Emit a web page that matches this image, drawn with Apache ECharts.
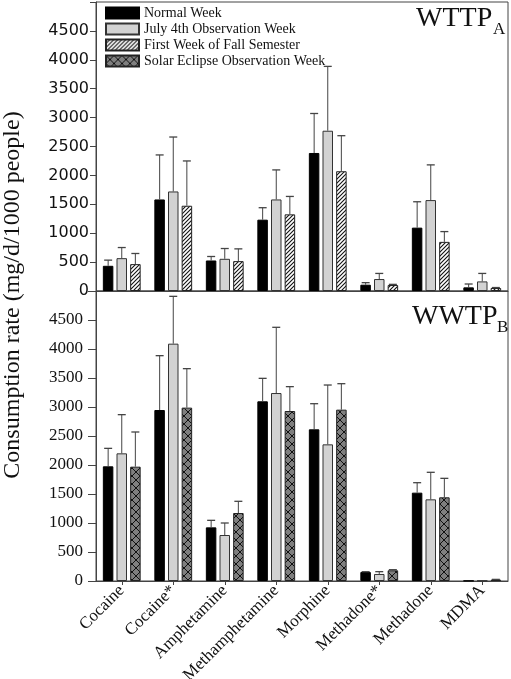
<!DOCTYPE html>
<html>
<head>
<meta charset="utf-8">
<script src="https://cdn.jsdelivr.net/npm/echarts@6/dist/echarts.min.js"></script>
<style>
html,body{margin:0;padding:0;background:#fff;}
#chart{width:511px;height:679px;}
</style>
</head>
<body>
<div id="chart"></div>
<script>
// ---- data ----
const categories = ['Cocaine','Cocaine*','Amphetamine','Methamphetamine','Morphine','Methadone*','Methadone','MDMA'];
const seriesNames = ['Normal Week','July 4th Observation Week','First Week of Fall Semester','Solar Eclipse Observation Week'];
const yTicks = [0,500,1000,1500,2000,2500,3000,3500,4000,4500];

// WTTP_A
const normalA  = [436, 1584, 528, 1234, 2388, 109, 1096, 63];
const normalAsd= [98, 770, 69, 207, 683, 35, 448, 58];
const julyA    = [568, 1722, 557, 1584, 2773, 207, 1573, 166];
const julyAsd  = [184, 942, 178, 511, 1113, 97, 609, 138];
const fallA    = [465, 1475, 517, 1326, 2072, 103, 850, 52];
const fallAsd  = [184, 775, 212, 310, 615, 12, 178, 8];

// WWTP_B
const normalB  = [1977, 2948, 925, 3098, 2615, 155, 1523, 5];
const normalBsd= [310, 937, 121, 396, 442, 5, 172, 0];
const julyB    = [2201, 4092, 793, 3241, 2356, 121, 1408, 5];
const julyBsd  = [667, 816, 207, 1133, 1023, 40, 466, 0];
const eclipseB = [1971, 2989, 1172, 2931, 2954, 184, 1443, 23];
const eclipseBsd=[598, 672, 202, 420, 448, 11, 327, 5];

// ---- patterns ----
function hatchPattern(){
  const c = document.createElement('canvas'); c.width = 4; c.height = 4;
  const g = c.getContext('2d');
  g.fillStyle = '#fff'; g.fillRect(0,0,4,4);
  g.strokeStyle = '#111'; g.lineWidth = 1.1;
  g.beginPath();
  g.moveTo(-1,5); g.lineTo(5,-1);
  g.moveTo(-1,1); g.lineTo(1,-1);
  g.moveTo(3,5); g.lineTo(5,3);
  g.stroke();
  return c;
}
function crossPattern(){
  const c = document.createElement('canvas'); c.width = 8; c.height = 8;
  const g = c.getContext('2d');
  g.fillStyle = '#7f7f7f'; g.fillRect(0,0,8,8);
  g.strokeStyle = '#111'; g.lineWidth = 1;
  g.beginPath();
  g.moveTo(0,0); g.lineTo(8,8);
  g.moveTo(8,0); g.lineTo(0,8);
  g.stroke();
  return c;
}
const hatch = {image: hatchPattern(), repeat: 'repeat'};
const cross = {image: crossPattern(), repeat: 'repeat'};

const styles = [
  {color:'#000', borderColor:'#000', borderWidth:1},
  {color:'#d2d2d2', borderColor:'#333', borderWidth:1},
  {color:hatch, borderColor:'#222', borderWidth:1},
  {color:cross, borderColor:'#222', borderWidth:1}
];

const BAR_W = 10.5;
const STEP = 13.6;

function barSeries(name, data, idx, styleIdx){
  return {
    name: name, type:'bar', xAxisIndex: idx, yAxisIndex: idx,
    data: data, barWidth: BAR_W, barGap: '30%',
    itemStyle: styles[styleIdx], emphasis:{disabled:true},
    silent: true, z: 2
  };
}
function errSeries(vals, sds, idx, pos){
  return {
    type:'custom', name:'err'+idx+'_'+pos, xAxisIndex: idx, yAxisIndex: idx,
    data: vals.map((v,i)=>[i, v, sds[i]]),
    z: 3, silent: true,
    renderItem: function(params, api){
      const v = api.value(1), e = api.value(2);
      const p0 = api.coord([api.value(0), v]);
      const p1 = api.coord([api.value(0), v + e]);
      const cx = p0[0] + pos*STEP;
      if (e <= 0) return null;
      return {type:'group', children:[
        {type:'line', shape:{x1:cx, y1:p0[1], x2:cx, y2:p1[1]}, style:{stroke:'#444', lineWidth:1}},
        {type:'line', shape:{x1:cx-4, y1:p1[1], x2:cx+4, y2:p1[1]}, style:{stroke:'#444', lineWidth:1.3}}
      ]};
    }
  };
}

function yAxis(idx, fontFamily, fontSize, tickLen, margin){
  return {
    type:'value', gridIndex: idx, min:0, max:5000, interval:500,
    axisLine:{show:true, lineStyle:{color:'#444', width:1}},
    axisTick:{show:true, length:tickLen, lineStyle:{color:'#444'}},
    splitLine:{show:false},
    axisLabel:{
      color:'#111', fontFamily: fontFamily, fontSize: fontSize, margin: margin,
      formatter: v => (yTicks.indexOf(v) >= 0 ? String(v) : '')
    }
  };
}

const chart = echarts.init(document.getElementById('chart'), null, {renderer:'canvas'});
chart.setOption({
  backgroundColor:'#fff',
  animation:false,
  grid:[
    {left:96, top:2, width:412, height:289, show:true, borderColor:'#444', borderWidth:1, backgroundColor:'transparent', containLabel:false, outerBoundsMode:'none'},
    {left:96, top:291, width:412, height:290, show:true, borderColor:'#444', borderWidth:1, backgroundColor:'transparent', containLabel:false, outerBoundsMode:'none'}
  ],
  xAxis:[
    {type:'category', gridIndex:0, data:categories,
     axisLine:{show:true, lineStyle:{color:'#444'}}, axisTick:{show:false}, axisLabel:{show:false}},
    {type:'category', gridIndex:1, data:categories,
     axisLine:{show:true, lineStyle:{color:'#444'}},
     axisTick:{show:true, alignWithLabel:true, length:4, lineStyle:{color:'#444'}},
     axisLabel:{show:true, interval:0, rotate:45, margin:7, color:'#111', fontFamily:'Liberation Serif', fontSize:17}}
  ],
  yAxis:[
    yAxis(0, 'DejaVu Sans', 16, 6, 7),
    yAxis(1, 'Liberation Serif', 17, 8, 13)
  ],
  legend:{
    data: seriesNames, orient:'vertical', left:100, top:1,
    itemWidth:33, itemHeight:11, itemGap:2, icon:'rect',
    textStyle:{fontFamily:'Liberation Serif', fontSize:14, color:'#111'},
    selectedMode:false
  },
  graphic:[
    {type:'text', left:416, top:5, style:{text:'WTTP', font:'28px "Liberation Serif"', fill:'#111'}},
    {type:'text', left:493, top:21, style:{text:'A', font:'17px "Liberation Serif"', fill:'#111'}},
    {type:'text', left:412, top:303, style:{text:'WWTP', font:'28px "Liberation Serif"', fill:'#111'}},
    {type:'text', left:497, top:319, style:{text:'B', font:'17px "Liberation Serif"', fill:'#111'}},
    {type:'text', x:13, y:295, rotation:Math.PI/2,
     style:{text:'Consumption rate (mg/d/1000 people)', font:'24px "Liberation Serif"', fill:'#111', align:'center', verticalAlign:'middle'}}
  ],
  series:[
    barSeries(seriesNames[0], normalA, 0, 0),
    barSeries(seriesNames[1], julyA, 0, 1),
    barSeries(seriesNames[2], fallA, 0, 2),
    barSeries(seriesNames[0], normalB, 1, 0),
    barSeries(seriesNames[1], julyB, 1, 1),
    barSeries(seriesNames[3], eclipseB, 1, 3),
    errSeries(normalA, normalAsd, 0, -1),
    errSeries(julyA, julyAsd, 0, 0),
    errSeries(fallA, fallAsd, 0, 1),
    errSeries(normalB, normalBsd, 1, -1),
    errSeries(julyB, julyBsd, 1, 0),
    errSeries(eclipseB, eclipseBsd, 1, 1)
  ]
});
</script>
</body>
</html>
